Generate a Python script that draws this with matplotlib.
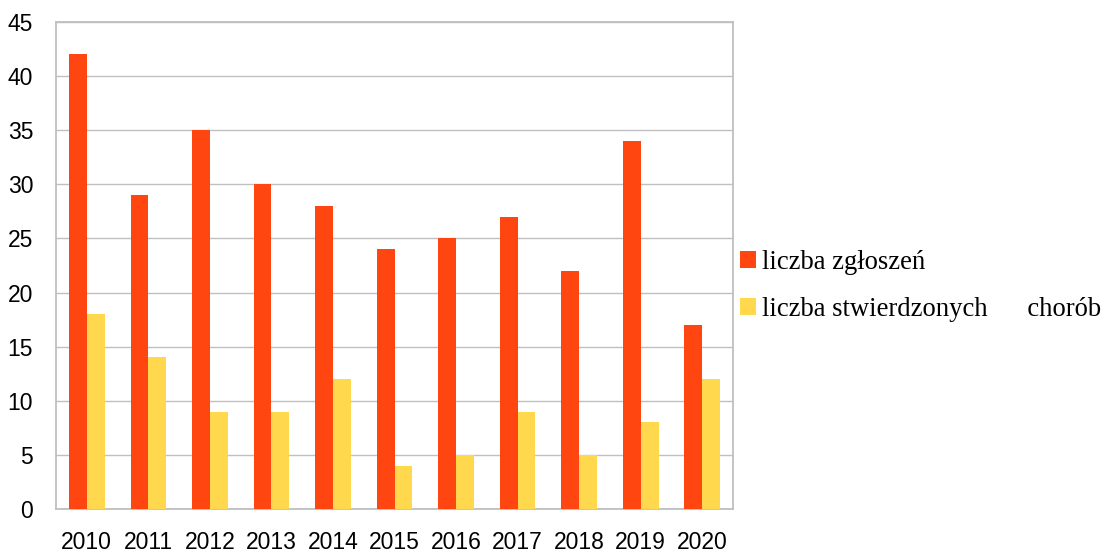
import matplotlib.pyplot as plt
import numpy as np

years = ['2010', '2011', '2012', '2013', '2014', '2015', '2016', '2017', '2018', '2019', '2020']
zgloszenia = [42, 29, 35, 30, 28, 24, 25, 27, 22, 34, 17]
stwierdzone = [18, 14, 9, 9, 12, 4, 5, 9, 5, 8, 12]
labels = ['liczba zgłoszeń', 'liczba stwierdzonych      chorób']

fig = plt.figure(figsize=(11.03, 5.54), dpi=100)
ax = fig.add_axes([0.0508, 0.0812, 0.6138, 0.8791])

x = np.arange(len(years))
w = 0.29
ax.bar(x - w / 2, zgloszenia, w, color='#FF4611', label=labels[0], zorder=3)
ax.bar(x + w / 2, stwierdzone, w, color='#FFD84D', label=labels[1], zorder=3)

ax.set_xlim(-0.5, len(years) - 0.5)
ax.set_ylim(0, 45)
ax.set_yticks(range(0, 46, 5))
ax.set_xticks(x)
ax.set_xticklabels(years)
ax.yaxis.grid(True, color='#C0C0C0', lw=1.0, zorder=0)
for s in ax.spines.values():
    s.set_color('#BFBFBF')
    s.set_linewidth(1.3)
ax.tick_params(axis='both', length=0, labelsize=16.5, colors='black')
for lbl in ax.get_xticklabels() + ax.get_yticklabels():
    lbl.set_family('Liberation Sans')
ax.tick_params(axis='y', pad=16.5)
ax.tick_params(axis='x', pad=16)

leg = fig.legend(loc='center left', bbox_to_anchor=(0.661, 0.484), frameon=False,
                 prop={'family': 'Liberation Serif', 'size': 19.2},
                 handlelength=0.6, handleheight=0.6, handletextpad=0.25,
                 labelspacing=0.8, borderaxespad=0)

fig.savefig('out.png', dpi=100)
